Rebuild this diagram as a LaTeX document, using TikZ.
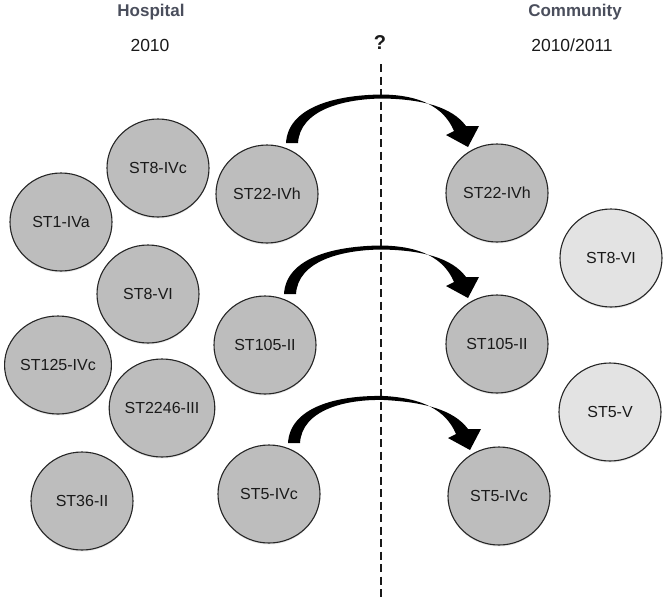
\documentclass[tikz,border=0pt]{standalone}
\usepackage{fontspec}
\setmainfont{Liberation Sans}
\usetikzlibrary{calc,shapes.geometric,shadows}
\definecolor{hdr}{HTML}{4A4E5C}
\definecolor{darkfill}{HTML}{BDBDBD}
\definecolor{lightfill}{HTML}{E3E3E3}
\definecolor{txt}{HTML}{1A1A1A}
\tikzset{
  blob/.style={ellipse, draw=black!85, line width=1.1pt, minimum width=102pt, minimum height=98pt,
    inner sep=0pt, text=txt, font=\fontsize{16}{18}\selectfont,
    drop shadow={shadow xshift=0pt, shadow yshift=-1.5pt, opacity=0.18}},
  darkblob/.style={blob, fill=darkfill},
  lightblob/.style={blob, fill=lightfill},
  header/.style={font=\fontsize{17}{19}\selectfont\bfseries, text=hdr, inner sep=0pt},
  year/.style={font=\fontsize{17.5}{19}\selectfont, text=txt, inner sep=0pt},
  arrowfill/.style={fill=black},
  divider/.style={draw=black!90, line width=2.3pt, dash pattern=on 8pt off 4.5pt}
}
\newcommand{\bigarrow}[2]{%
  \fill[arrowfill]
    ($(#1)+(19,-51)$) .. controls ($(#1)+(21,-86)$) and ($(#1)+(66,-99)$) ..
    ($(#1)!0.5!(#2)+(0,-99)$) .. controls ($(#2)+(-77,-98)$) and ($(#2)+(-53,-86)$) ..
    ($(#2)+(-43,-62)$) -- ($(#2)+(-51,-58)$) -- ($(#2)+(-29,-46)$) -- ($(#2)+(-18,-67)$) --
    ($(#2)+(-31,-67)$) .. controls ($(#2)+(-45,-86)$) and ($(#2)+(-75,-94)$) ..
    ($(#1)!0.5!(#2)+(0,-95)$) .. controls ($(#1)+(76,-95)$) and ($(#1)+(33,-84)$) ..
    ($(#1)+(31,-51)$) -- cycle;}
\begin{document}
\begin{tikzpicture}[x=1pt,y=-1pt]
\useasboundingbox (0,0) rectangle (670,598);
% headers
\node[header] (hosp) at (151,12) {Hospital};
\node[year] (hyear) at (150,45) {2010};
\node[header] (comm) at (575,12) {Community};
\node[year] (cyear) at (572,45) {2010/2011};
\node[font=\fontsize{20}{22}\selectfont\bfseries, text=txt, inner sep=0pt] (q) at (380,43) {?};
% divider
\coordinate (dtop) at (381,64);
\coordinate (dbot) at (381,598);
\draw[divider] (dtop) -- (dbot);
% hospital
\node[darkblob] (h1) at (158,168) {ST8-IVc};
\node[darkblob] (h2) at (61,222) {ST1-IVa};
\node[darkblob] (h3) at (148,294) {ST8-VI};
\node[darkblob] (h4) at (58,365) {ST125-IVc};
\node[darkblob] (h5) at (162,408) {ST2246-III};
\node[darkblob] (h6) at (82,501) {ST36-II};
\node[darkblob] (h7) at (267,194) {ST22-IVh};
\node[darkblob] (h8) at (265,345) {ST105-II};
\node[darkblob] (h9) at (269,494) {ST5-IVc};
% community
\node[darkblob] (c1) at (497,193) {ST22-IVh};
\node[darkblob] (c2) at (497,344) {ST105-II};
\node[darkblob] (c3) at (499,496) {ST5-IVc};
\node[lightblob] (c4) at (611,258) {ST8-VI};
\node[lightblob] (c5) at (610,412) {ST5-V};
% arrows
\bigarrow{h7}{c1}
\bigarrow{h8}{c2}
\bigarrow{h9}{c3}
\end{tikzpicture}
\end{document}
